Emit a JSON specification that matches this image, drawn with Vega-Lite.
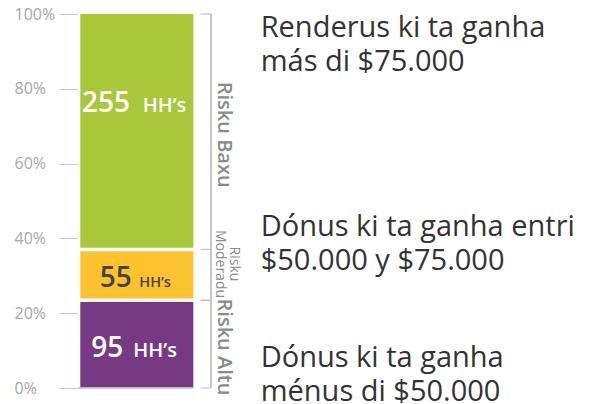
{
  "$schema": "https://vega.github.io/schema/vega-lite/v6.json",
  "width": 512,
  "height": 374,
  "autosize": {"type": "none"},
  "padding": {"left": 78, "top": 14, "right": 0, "bottom": 16},
  "background": "white",
  "config": {"view": {"stroke": null}, "font": "Open Sans", "text": {"font": "Open Sans"}},
  "data": {"values": [
    {"risk": "Risku Altu", "hh": 95, "order": 1, "desc": "Dónus ki ta ganha\nménus di $50.000"},
    {"risk": "Risku Moderadu", "hh": 55, "order": 2, "desc": "Dónus ki ta ganha entri\n$50.000 y $75.000"},
    {"risk": "Risku Baxu", "hh": 255, "order": 3, "desc": "Renderus ki ta ganha\nmás di $75.000"}
  ]},
  "transform": [
    {"stack": "hh", "groupby": [], "sort": [{"field": "order", "order": "ascending"}], "offset": "normalize", "as": ["y0", "y1"]}
  ],
  "resolve": {"axis": {"x": "independent", "y": "independent"}},
  "layer": [
    {
      "mark": {"type": "bar"},
      "encoding": {
        "x": {"datum": 0.45, "type": "quantitative", "scale": {"domain": [0, 100], "nice": false, "zero": false}, "axis": null},
        "x2": {"datum": 22.52},
        "y": {"field": "y0", "type": "quantitative", "scale": {"domain": [0, 1], "nice": false},
              "axis": {"values": [0, 0.2, 0.4, 0.6, 0.8, 1], "format": ".0%", "title": null, "grid": false, "domain": false,
                       "tickColor": "#c8c8c8", "tickSize": 19, "tickWidth": 1, "labelPadding": 45, "labelAlign": "left",
                       "labelFont": "Open Sans", "labelFontSize": 16, "labelColor": "#a8a8a8"}},
        "y2": {"field": "y1"},
        "color": {"field": "risk", "type": "nominal", "legend": null,
                  "scale": {"domain": ["Risku Altu", "Risku Moderadu", "Risku Baxu"], "range": ["#783984", "#fdc230", "#a8c83a"]}}
      }
    },
    {
      "transform": [{"filter": "datum.order < 3"}],
      "mark": {"type": "rule", "color": "white", "strokeWidth": 3.5},
      "encoding": {
        "x": {"datum": 0.2, "type": "quantitative", "axis": null},
        "x2": {"datum": 22.8},
        "y": {"field": "y1", "type": "quantitative", "axis": null}
      }
    },
    {
      "mark": {"type": "rule", "color": "#c8c8c8", "strokeWidth": 1.2},
      "encoding": {
        "x": {"datum": 0, "type": "quantitative", "axis": null},
        "x2": {"datum": 22.52},
        "y": {"datum": 0, "type": "quantitative", "axis": null}
      }
    },
    {
      "mark": {"type": "rule", "color": "#c4c4c4", "strokeWidth": 1.2},
      "encoding": {
        "x": {"datum": 25.98, "type": "quantitative", "axis": null},
        "y": {"datum": 0, "type": "quantitative", "axis": null},
        "y2": {"datum": 1}
      }
    },
    {
      "mark": {"type": "rule", "color": "#c4c4c4", "strokeWidth": 1.2},
      "encoding": {
        "x": {"datum": 23.96, "type": "quantitative", "axis": null},
        "x2": {"datum": 25.98},
        "y": {"field": "y0", "type": "quantitative", "axis": null}
      }
    },
    {
      "mark": {"type": "rule", "color": "#c4c4c4", "strokeWidth": 1.2},
      "encoding": {
        "x": {"datum": 23.96, "type": "quantitative", "axis": null},
        "x2": {"datum": 25.98},
        "y": {"field": "y1", "type": "quantitative", "axis": null}
      }
    },
    {
      "transform": [{"filter": "datum.order == 3"}],
      "mark": {"type": "text", "align": "right", "baseline": "alphabetic", "dx": -6.8, "dy": 97.7, "fontSize": 28, "fontWeight": 600, "color": "white"},
      "encoding": {
        "x": {"datum": 11.48, "type": "quantitative", "axis": null},
        "y": {"field": "y1", "type": "quantitative", "axis": null},
        "text": {"field": "hh"}
      }
    },
    {
      "transform": [{"filter": "datum.order == 3"}],
      "mark": {"type": "text", "align": "left", "baseline": "alphabetic", "dx": 5.9, "dy": 97.7, "fontSize": 20, "fontWeight": 600, "color": "white", "text": "HH’s"},
      "encoding": {
        "x": {"datum": 11.48, "type": "quantitative", "axis": null},
        "y": {"field": "y1", "type": "quantitative", "axis": null}
      }
    },
    {
      "transform": [{"filter": "datum.order == 2"}],
      "mark": {"type": "text", "align": "right", "baseline": "alphabetic", "dx": -5.1, "dy": 37.8, "fontSize": 28, "fontWeight": 600, "color": "#444444"},
      "encoding": {
        "x": {"datum": 11.48, "type": "quantitative", "axis": null},
        "y": {"field": "y1", "type": "quantitative", "axis": null},
        "text": {"field": "hh"}
      }
    },
    {
      "transform": [{"filter": "datum.order == 2"}],
      "mark": {"type": "text", "align": "left", "baseline": "alphabetic", "dx": 2.5, "dy": 37.8, "fontSize": 14.5, "fontWeight": 600, "color": "#444444", "text": "HH’s"},
      "encoding": {
        "x": {"datum": 11.48, "type": "quantitative", "axis": null},
        "y": {"field": "y1", "type": "quantitative", "axis": null}
      }
    },
    {
      "transform": [{"filter": "datum.order == 1"}],
      "mark": {"type": "text", "align": "right", "baseline": "alphabetic", "dx": -13.5, "dy": 56.4, "fontSize": 28, "fontWeight": 600, "color": "white"},
      "encoding": {
        "x": {"datum": 11.48, "type": "quantitative", "axis": null},
        "y": {"field": "y1", "type": "quantitative", "axis": null},
        "text": {"field": "hh"}
      }
    },
    {
      "transform": [{"filter": "datum.order == 1"}],
      "mark": {"type": "text", "align": "left", "baseline": "alphabetic", "dx": -3.5, "dy": 56.4, "fontSize": 20, "fontWeight": 600, "color": "white", "text": "HH’s"},
      "encoding": {
        "x": {"datum": 11.48, "type": "quantitative", "axis": null},
        "y": {"field": "y1", "type": "quantitative", "axis": null}
      }
    },
    {
      "transform": [{"filter": "datum.order == 3"}],
      "mark": {"type": "text", "angle": 90, "align": "center", "baseline": "middle", "dx": 120.7, "fontSize": 20, "fontWeight": 600, "color": "#8a8a8a"},
      "encoding": {
        "x": {"datum": 28.5, "type": "quantitative", "axis": null},
        "y": {"field": "y1", "type": "quantitative", "axis": null},
        "text": {"field": "risk"}
      }
    },
    {
      "transform": [{"filter": "datum.order == 2"}],
      "mark": {"type": "text", "angle": 90, "align": "center", "baseline": "middle", "dx": 14.5, "fontSize": 14, "lineHeight": 14.5, "lineBreak": " ", "color": "#8a8a8a"},
      "encoding": {
        "x": {"datum": 30.5, "type": "quantitative", "axis": null},
        "y": {"field": "y1", "type": "quantitative", "axis": null},
        "text": {"field": "risk"}
      }
    },
    {
      "transform": [{"filter": "datum.order == 1"}],
      "mark": {"type": "text", "angle": 90, "align": "center", "baseline": "middle", "dx": 46.7, "fontSize": 20, "fontWeight": 600, "color": "#8a8a8a"},
      "encoding": {
        "x": {"datum": 28.5, "type": "quantitative", "axis": null},
        "y": {"field": "y1", "type": "quantitative", "axis": null},
        "text": {"field": "risk"}
      }
    },
    {
      "transform": [{"filter": "datum.order == 3"}],
      "mark": {"type": "text", "align": "left", "baseline": "alphabetic", "dy": 22.7, "fontSize": 29, "lineHeight": 34, "lineBreak": "\n", "color": "#333333"},
      "encoding": {
        "x": {"datum": 35.68, "type": "quantitative", "axis": null},
        "y": {"field": "y1", "type": "quantitative", "axis": null},
        "text": {"field": "desc"}
      }
    },
    {
      "transform": [{"filter": "datum.order == 2"}],
      "mark": {"type": "text", "align": "left", "baseline": "alphabetic", "dy": -13.5, "fontSize": 29, "lineHeight": 34, "lineBreak": "\n", "color": "#333333"},
      "encoding": {
        "x": {"datum": 35.68, "type": "quantitative", "axis": null},
        "y": {"field": "y1", "type": "quantitative", "axis": null},
        "text": {"field": "desc"}
      }
    },
    {
      "transform": [{"filter": "datum.order == 1"}],
      "mark": {"type": "text", "align": "left", "baseline": "alphabetic", "dy": 66.4, "fontSize": 29, "lineHeight": 34, "lineBreak": "\n", "color": "#333333"},
      "encoding": {
        "x": {"datum": 35.68, "type": "quantitative", "axis": null},
        "y": {"field": "y1", "type": "quantitative", "axis": null},
        "text": {"field": "desc"}
      }
    }
  ]
}
